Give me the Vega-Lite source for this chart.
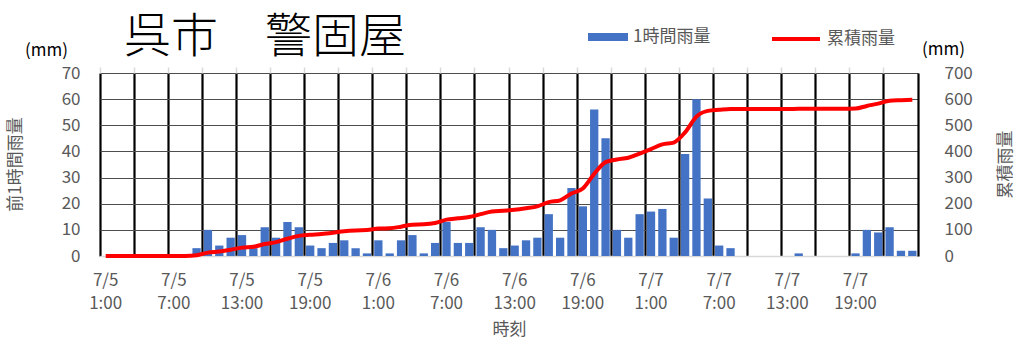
{
  "$schema": "https://vega.github.io/schema/vega-lite/v6.json",
  "autosize": {"type": "none"},
  "width": 818,
  "height": 183,
  "padding": {"left": 100, "top": 73, "right": 101, "bottom": 86},
  "background": "white",
  "title": {
    "text": "呉市　警固屋",
    "anchor": "start",
    "frame": "group",
    "dx": 24,
    "fontSize": 47,
    "font": "Noto Sans CJK JP",
    "fontWeight": 300,
    "color": "#000000",
    "offset": -49
  },
  "config": {
    "view": {"stroke": null},
    "font": "Noto Sans CJK JP"
  },
  "data": {
    "values": [
      {"t": "7/5 1:00", "rain": 0, "cum": 0},
      {"t": "7/5 2:00", "rain": 0, "cum": 0},
      {"t": "7/5 3:00", "rain": 0, "cum": 0},
      {"t": "7/5 4:00", "rain": 0, "cum": 0},
      {"t": "7/5 5:00", "rain": 0, "cum": 0},
      {"t": "7/5 6:00", "rain": 0, "cum": 0},
      {"t": "7/5 7:00", "rain": 0, "cum": 0},
      {"t": "7/5 8:00", "rain": 0, "cum": 0},
      {"t": "7/5 9:00", "rain": 3, "cum": 3},
      {"t": "7/5 10:00", "rain": 10, "cum": 13},
      {"t": "7/5 11:00", "rain": 4, "cum": 17},
      {"t": "7/5 12:00", "rain": 7, "cum": 24},
      {"t": "7/5 13:00", "rain": 8, "cum": 32},
      {"t": "7/5 14:00", "rain": 3, "cum": 35},
      {"t": "7/5 15:00", "rain": 11, "cum": 46},
      {"t": "7/5 16:00", "rain": 7, "cum": 53},
      {"t": "7/5 17:00", "rain": 13, "cum": 66},
      {"t": "7/5 18:00", "rain": 11, "cum": 77},
      {"t": "7/5 19:00", "rain": 4, "cum": 81},
      {"t": "7/5 20:00", "rain": 3, "cum": 84},
      {"t": "7/5 21:00", "rain": 5, "cum": 89},
      {"t": "7/5 22:00", "rain": 6, "cum": 95},
      {"t": "7/5 23:00", "rain": 3, "cum": 98},
      {"t": "7/6 0:00", "rain": 1, "cum": 99},
      {"t": "7/6 1:00", "rain": 6, "cum": 105},
      {"t": "7/6 2:00", "rain": 1, "cum": 106},
      {"t": "7/6 3:00", "rain": 6, "cum": 112},
      {"t": "7/6 4:00", "rain": 8, "cum": 120},
      {"t": "7/6 5:00", "rain": 1, "cum": 121},
      {"t": "7/6 6:00", "rain": 5, "cum": 126},
      {"t": "7/6 7:00", "rain": 13, "cum": 139},
      {"t": "7/6 8:00", "rain": 5, "cum": 144},
      {"t": "7/6 9:00", "rain": 5, "cum": 149},
      {"t": "7/6 10:00", "rain": 11, "cum": 160},
      {"t": "7/6 11:00", "rain": 10, "cum": 170},
      {"t": "7/6 12:00", "rain": 3, "cum": 173},
      {"t": "7/6 13:00", "rain": 4, "cum": 177},
      {"t": "7/6 14:00", "rain": 6, "cum": 183},
      {"t": "7/6 15:00", "rain": 7, "cum": 190},
      {"t": "7/6 16:00", "rain": 16, "cum": 206},
      {"t": "7/6 17:00", "rain": 7, "cum": 213},
      {"t": "7/6 18:00", "rain": 26, "cum": 239},
      {"t": "7/6 19:00", "rain": 19, "cum": 258},
      {"t": "7/6 20:00", "rain": 56, "cum": 314},
      {"t": "7/6 21:00", "rain": 45, "cum": 359},
      {"t": "7/6 22:00", "rain": 10, "cum": 369},
      {"t": "7/6 23:00", "rain": 7, "cum": 376},
      {"t": "7/7 0:00", "rain": 16, "cum": 392},
      {"t": "7/7 1:00", "rain": 17, "cum": 409},
      {"t": "7/7 2:00", "rain": 18, "cum": 427},
      {"t": "7/7 3:00", "rain": 7, "cum": 434},
      {"t": "7/7 4:00", "rain": 39, "cum": 473},
      {"t": "7/7 5:00", "rain": 60, "cum": 533},
      {"t": "7/7 6:00", "rain": 22, "cum": 555},
      {"t": "7/7 7:00", "rain": 4, "cum": 559},
      {"t": "7/7 8:00", "rain": 3, "cum": 562},
      {"t": "7/7 9:00", "rain": 0, "cum": 562},
      {"t": "7/7 10:00", "rain": 0, "cum": 562},
      {"t": "7/7 11:00", "rain": 0, "cum": 562},
      {"t": "7/7 12:00", "rain": 0, "cum": 562},
      {"t": "7/7 13:00", "rain": 0, "cum": 562},
      {"t": "7/7 14:00", "rain": 1, "cum": 563},
      {"t": "7/7 15:00", "rain": 0, "cum": 563},
      {"t": "7/7 16:00", "rain": 0, "cum": 563},
      {"t": "7/7 17:00", "rain": 0, "cum": 563},
      {"t": "7/7 18:00", "rain": 0, "cum": 563},
      {"t": "7/7 19:00", "rain": 1, "cum": 564},
      {"t": "7/7 20:00", "rain": 10, "cum": 574},
      {"t": "7/7 21:00", "rain": 9, "cum": 583},
      {"t": "7/7 22:00", "rain": 11, "cum": 594},
      {"t": "7/7 23:00", "rain": 2, "cum": 596},
      {"t": "7/8 0:00", "rain": 2, "cum": 598}
    ]
  },
  "layer": [
    {
      "mark": {"type": "bar", "width": {"band": 0.73}},
      "encoding": {
        "x": {
          "field": "t", "type": "nominal", "sort": null,
          "scale": {"paddingInner": 0, "paddingOuter": 0},
          "axis": {
            "values": ["7/5 1:00", "7/5 7:00", "7/5 13:00", "7/5 19:00", "7/6 1:00", "7/6 7:00", "7/6 13:00", "7/6 19:00", "7/7 1:00", "7/7 7:00", "7/7 13:00", "7/7 19:00"],
            "bandPosition": 0.5,
            "labelExpr": "split(datum.label, ' ')",
            "labelAngle": 0,
            "labelFontSize": 17,
            "labelColor": "#595959",
            "labelPadding": 16,
            "labelLineHeight": 23,
            "labelFont": "Noto Sans CJK JP",
            "ticks": false,
            "grid": false,
            "domain": true,
            "domainColor": "#d9d9d9",
            "domainWidth": 1.5,
            "title": "時刻",
            "titleFontSize": 17,
            "titleColor": "#595959",
            "titleFontWeight": "normal",
            "titlePadding": 10,
            "titleFont": "Noto Sans CJK JP"
          }
        },
        "y": {
          "field": "rain", "type": "quantitative",
          "scale": {"domain": [0, 70], "nice": false},
          "axis": {
            "values": [0, 10, 20, 30, 40, 50, 60, 70],
            "labelFontSize": 17,
            "labelColor": "#595959",
            "labelPadding": 20,
            "ticks": false,
            "domain": false,
            "grid": true,
            "gridColor": {"condition": {"test": "datum.value === 0", "value": "#d9d9d9"}, "value": "#4d4d4d"},
            "gridWidth": 1.2,
            "title": "前1時間雨量",
            "titleAngle": 270,
            "titleX": -85,
            "titleY": 91,
            "titleAlign": "center",
            "titleBaseline": "middle",
            "titleFontSize": 17,
            "titleColor": "#595959",
            "titleFontWeight": "normal"
          }
        },
        "color": {
          "datum": "1時間雨量",
          "scale": {"range": ["#4472C4"]},
          "legend": {
            "orient": "none",
            "legendX": 488,
            "legendY": -56,
            "title": null,
            "padding": 0,
            "symbolType": "M-1,-0.2H1V0.2H-1Z",
            "symbolSize": 1600,
            "symbolFillColor": "#4472C4",
            "symbolStrokeWidth": 0,
            "symbolOpacity": 1,
            "labelFontSize": 17,
            "labelColor": "#595959",
            "labelOffset": 5
          }
        }
      }
    },
    {
      "mark": {"type": "line", "interpolate": "monotone", "strokeWidth": 4, "color": "#FF0000"},
      "encoding": {
        "x": {
          "field": "t", "type": "nominal", "sort": null,
          "axis": {
            "values": ["7/5 1:00", "7/5 4:00", "7/5 7:00", "7/5 10:00", "7/5 13:00", "7/5 16:00", "7/5 19:00", "7/5 22:00", "7/6 1:00", "7/6 4:00", "7/6 7:00", "7/6 10:00", "7/6 13:00", "7/6 16:00", "7/6 19:00", "7/6 22:00", "7/7 1:00", "7/7 4:00", "7/7 7:00", "7/7 10:00", "7/7 13:00", "7/7 16:00", "7/7 19:00", "7/7 22:00"],
            "bandPosition": 0,
            "labels": false,
            "domain": false,
            "ticks": true,
            "tickColor": "#d9d9d9",
            "tickSize": 6,
            "tickWidth": 1.5,
            "grid": true,
            "gridColor": "#000000",
            "gridWidth": 2.2,
            "title": null
          }
        },
        "y": {
          "field": "cum", "type": "quantitative",
          "scale": {"domain": [0, 700], "nice": false},
          "axis": {
            "orient": "right",
            "values": [0, 100, 200, 300, 400, 500, 600, 700],
            "labelFontSize": 17,
            "labelColor": "#595959",
            "labelPadding": 26,
            "ticks": false,
            "domain": true,
            "domainColor": "#000000",
            "domainWidth": 2.2,
            "grid": false,
            "title": "累積雨量",
            "titleAngle": 270,
            "titleX": 87,
            "titleY": 91,
            "titleAlign": "center",
            "titleBaseline": "middle",
            "titleFontSize": 17,
            "titleColor": "#595959",
            "titleFontWeight": "normal"
          }
        },
        "color": {
          "datum": "累積雨量",
          "scale": {"range": ["#FF0000"]},
          "legend": {
            "orient": "none",
            "legendX": 670,
            "legendY": -60,
            "title": null,
            "padding": 0,
            "symbolType": "stroke",
            "symbolSize": 2304,
            "symbolStrokeColor": "#FF0000",
            "symbolStrokeWidth": 4,
            "labelFontSize": 17,
            "labelColor": "#595959",
            "labelOffset": 5
          }
        }
      }
    },
    {
      "mark": {"type": "point", "opacity": 0},
      "encoding": {
        "x": {"field": "t", "type": "nominal", "sort": null, "axis": null},
        "y": {
          "field": "rain", "type": "quantitative",
          "scale": {"domain": [0, 70], "nice": false},
          "axis": {
            "orient": "left",
            "labels": false, "ticks": false, "domain": false, "grid": false,
            "title": "(mm)",
            "titleAngle": 0,
            "titleX": -54,
            "titleY": -23,
            "titleAlign": "center",
            "titleBaseline": "middle",
            "titleFontSize": 17,
            "titleColor": "#000000",
            "titleFontWeight": "normal"
          }
        }
      }
    },
    {
      "mark": {"type": "point", "opacity": 0},
      "encoding": {
        "x": {"field": "t", "type": "nominal", "sort": null, "axis": null},
        "y": {
          "field": "cum", "type": "quantitative",
          "scale": {"domain": [0, 700], "nice": false},
          "axis": {
            "orient": "right",
            "labels": false, "ticks": false, "domain": false, "grid": false,
            "title": "(mm)",
            "titleAngle": 0,
            "titleX": 25,
            "titleY": -24,
            "titleAlign": "center",
            "titleBaseline": "middle",
            "titleFontSize": 17,
            "titleColor": "#000000",
            "titleFontWeight": "normal"
          }
        }
      }
    }
  ],
  "resolve": {
    "scale": {"y": "independent", "color": "independent", "x": "shared"},
    "axis": {"x": "independent", "y": "independent"},
    "legend": {"color": "independent"}
  }
}
